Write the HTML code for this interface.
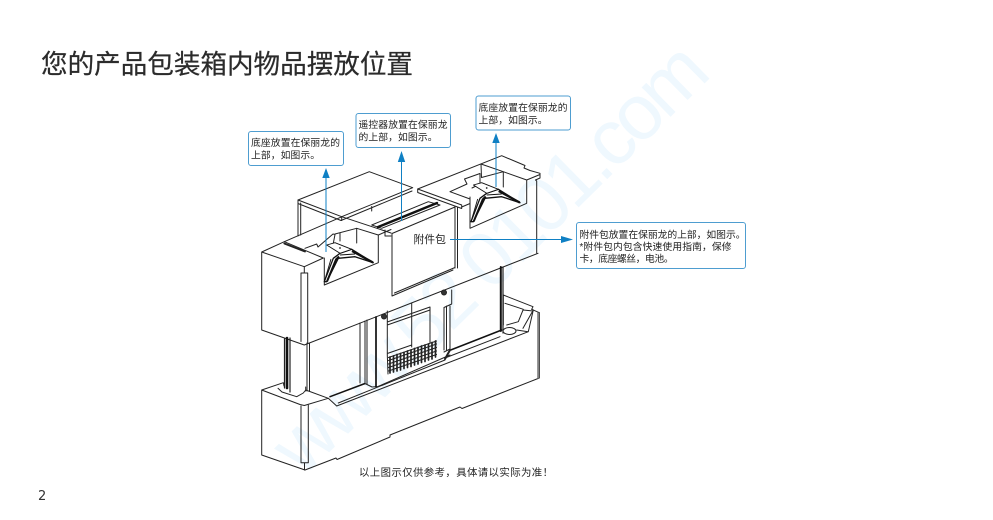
<!DOCTYPE html>
<html lang="zh">
<head>
<meta charset="utf-8">
<title>物品摆放位置</title>
<style>
html,body{margin:0;padding:0;background:#fff;width:993px;height:520px;overflow:hidden}
svg{display:block}
text{font-family:"Liberation Sans","Noto Sans CJK SC",sans-serif}
</style>
</head>
<body>
<svg width="993" height="520" viewBox="0 0 993 520" xmlns="http://www.w3.org/2000/svg">
<rect width="993" height="520" fill="#fff"/>
<text transform="translate(303,478) rotate(-44.5)" font-size="78" fill="#eff8fe" textLength="575" lengthAdjust="spacing">www.52 0101.com</text>

<text x="41" y="73.500" font-size="26.600" fill="#2b2b2b" stroke="#2b2b2b" stroke-width="0.200" textLength="372">您的产品包装箱内物品摆放位置</text>
<text x="38" y="500" font-size="13" fill="#333" style="font-family:'DejaVu Sans',sans-serif">2</text>

<g fill="none" stroke="#222" stroke-width="1" stroke-linejoin="round" stroke-linecap="round">
<!-- back plate -->
<path d="M298 200L369.300 171.700L412.700 187.700L341.700 216.700L298 200Z"/>
<path d="M298 203.500L341 220.500L412 191M341.700 216.700V220.500M371.700 206.500V211M298 200V236M300.700 203V235"/>

<!-- right block -->
<path d="M417.700 189L501.700 155.700L525 165.500L524 168L530 170.500L540 173.300V178L535.500 180L536.700 181V253"/>
<path d="M417.700 189V192.500L461.700 208.500V205L417.700 189M455 206.500V268M457.500 207V268M461.700 207L470 203.500"/>
<path d="M470 197V228.300L526.700 203.300V180L503.300 171.700L481.500 177.500L481 164L503.300 171.700V187M526.700 180L540 174.500"/>
<path d="M450 191.700L467 184L464.500 179L480 173.500M450 191.700L470 199M480 173.500V184L472 188"/>

<!-- tray and bag -->
<path d="M341.700 216.700L391 233M371.700 225L428.300 201.700L440 205L381.700 228.300L371.700 225Z"/>
<path d="M392 233.500V296L453 270M392 233.500L455 207M394.500 293L455 267.500"/>
<path d="M385 230V236L391 236M378.300 235L391 229.500"/>
<path d="M378 227L437 203" stroke-width="2.400" stroke="#111"/>

<!-- left block -->
<path d="M261.700 252L284.300 241.700L323.300 258L304.300 266.700L261.700 252ZM261.700 252V330L304.300 345L538 253.300"/>
<path d="M304.300 266.700V273M301 273V341.500M307.700 273V343.500M301 273H307.700"/>
<path d="M284.300 241.700L342 216.700"/>
<path d="M284.300 243.500L305 251.500" stroke-width="1.800"/>
<path d="M305 248.300L316.700 244L318 247L333 234L335 234.500L333.300 243.300M335 234L356.700 228.300L378.300 235V262.700L324.300 285V258M356.700 228.300V243M340 233V241"/>

<!-- lower machine -->
<path d="M307 343V391M309.500 343V391M360 323V383M365 321V384M367 320V384"/>
<path d="M387.300 311V355L388 374M411.700 303V347M430 307V343M387.300 322L430 307M387.300 325L430 310M387.300 353.500L411.700 345M451.700 290V304L444 307.500V350M450 306V349L444 352M446.500 306V350"/>
<path d="M366 384L372 387L378 386.500L450 355"/>
<path d="M284.500 339V388M290 338V392" stroke-width="1.200"/>
<path d="M287 338V388" stroke="#111" stroke-width="2.600"/>
<path d="M376 317V386.500" stroke="#111" stroke-width="1.700"/>
<path d="M503 267V333" stroke-width="1.200"/>
<path d="M500.800 267V331" stroke="#111" stroke-width="2"/>
<path d="M450.700 350L501.700 330M365 383.500L330 396.700" stroke="#111" stroke-width="1.500"/>
<g stroke="#222">
<path d="M388.500 357.500L436.500 341M388.500 360.500L436.500 344M388.500 364L436.500 347.500M388.500 367.500L436.500 351M388.500 371L436.500 354.500" stroke-width="1.100"/>
<path d="M390 357V373M393.500 356V372M397 354.500V371M400.500 353.500V370M404 352.500V368.500M407.500 351V367.500M411 350V366.500M414.500 348.500V365M418 347.500V364M421.500 346V362.500M425 345V361.500M428.500 344V360M432 342.500V359M435.500 341V357" stroke-width="1.700"/>
</g>
<circle cx="384" cy="316.500" r="2.500" fill="#333"/>
<circle cx="444" cy="292.500" r="2.500" fill="#333"/>

<!-- base -->
<path d="M261.700 390L283.300 382.700L284 386M261.700 390V455L305 470M261.700 390L300 404.500L304.300 405.500L328.300 398.300L336.700 406L528.300 331.700L533.300 310L531.700 309.300L539.300 312.700"/>
<path d="M305 470L336 458L337 459.500L390 437V435L460 407L462 408.500L539.300 378V312.700"/>
<path d="M301 406V462.700M308.300 405V462.700M301 462.700H308.300M304.500 462.700V470"/>
<path d="M278 388.300L282 392L296.700 396.700L303.300 393L305.700 390L328.300 398.300M305.700 387V391"/>
<path d="M338.300 403L445 360M445 358L500 336.700M503.300 295L533 306.700L531.700 309.300M503.300 295V325M505 303.300L523.300 309.300L518.300 321.700L506.700 325M523.300 310L533 311M523 328.300L533.300 310M516.700 330L528 331.700"/>
<ellipse cx="509.500" cy="331" rx="6.500" ry="3.500" fill="#fff"/>
<path d="M450 350L445 359" stroke-width="2"/>
<path d="M538 313V378" stroke="#777" stroke-width="1.500"/>
</g>

<!-- stands -->
<g id="stand" stroke="#111" stroke-linejoin="round" fill="#fff">
<path d="M324.300 281.700L333.300 258.300L340 253.300L351.700 249.300L373.300 262.700L355 256.700L338.300 258.300L326.700 281.700Z" stroke-width="1.300"/>
<path d="M326.700 245L335 242.700L351.700 249.300L340 253.300Z" stroke-width="0.900"/>
<path d="M324.500 281L331 259" stroke-width="0.900" fill="none"/>
<path d="M327 281.500L336 259.500L339 256.500" stroke-width="2" fill="none"/>
<path d="M352 251L373 262.500" stroke-width="2.200" fill="none"/>
<path d="M340 255L355 254" stroke-width="1" fill="none"/>
<circle cx="340" cy="248" r="0.900" fill="#222" stroke="none"/>
</g>
<use href="#stand" transform="translate(146.700,-60)"/>

<!-- callouts -->
<g fill="none" stroke="#0f80c4" stroke-width="1">
<path d="M326 178V252M401.500 162V221M496 143V187M450 239.500H562"/>
</g>
<g fill="#0f80c4">
<path d="M326 168L329.700 178H322.300Z"/>
<path d="M401.500 151L405.200 162H397.800Z"/>
<path d="M496 133L499.700 143H492.300Z"/>
<path d="M573 239.500L561 236V243Z"/>
</g>
<g fill="#fff" stroke="#4e9dd0" stroke-width="1">
<rect x="248.500" y="131.500" width="95" height="34" rx="2.500"/>
<rect x="356" y="113.500" width="94.500" height="34" rx="2.500"/>
<rect x="476" y="96" width="94.500" height="34" rx="2.500"/>
<rect x="576.500" y="222.500" width="169" height="46" rx="2.500"/>
</g>
<g font-size="9.800" fill="#222">
<text x="251" y="146" textLength="89">底座放置在保丽龙的</text>
<text x="251" y="158.500" textLength="69">上部，如图示。</text>
<text x="358.500" y="128" textLength="89">遥控器放置在保丽龙</text>
<text x="358.500" y="140.500" textLength="79">的上部，如图示。</text>
<text x="478.500" y="111" textLength="89">底座放置在保丽龙的</text>
<text x="478.500" y="123.500" textLength="69">上部，如图示。</text>
<text x="579.500" y="238" textLength="166">附件包放置在保丽龙的上部，如图示。</text>
<text x="579.500" y="250" textLength="152">*附件包内包含快速使用指南，保修</text>
<text x="579.500" y="262" textLength="94">卡，底座螺丝，电池。</text>
</g>
<text x="413.500" y="243" font-size="10.800" fill="#222">附件包</text>
<text x="359" y="476" font-size="10.400" fill="#222" textLength="194">以上图示仅供参考，具体请以实际为准！</text>
</svg>
</body>
</html>
